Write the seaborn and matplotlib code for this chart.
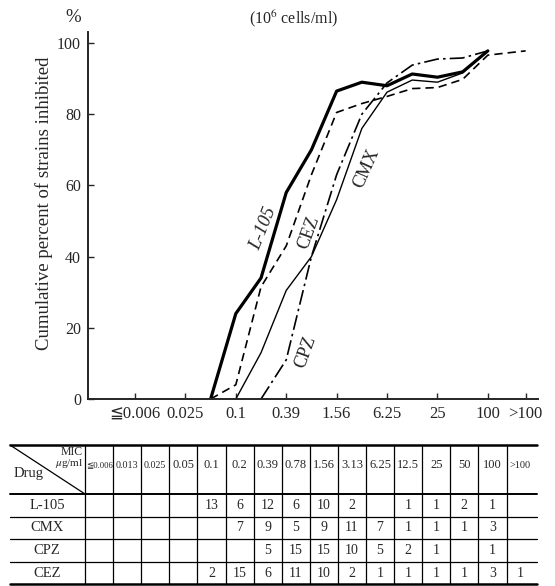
import matplotlib
matplotlib.use("Agg")
import matplotlib.pyplot as plt
import seaborn as sns
import pandas as pd

# MIC levels (ug/ml), in the order used on the x axis and in the table
mic_levels = ["≦0.006", "0.013", "0.025", "0.05", "0.1", "0.2", "0.39", "0.78",
              "1.56", "3.13", "6.25", "12.5", "25", "50", "100", ">100"]
axis_labels = ["≦0.006", "0.025", "0.1", "0.39", "1.56", "6.25", "25", "100", ">100"]

drugs = ["L-105", "CMX", "CPZ", "CEZ"]

# Cumulative percent of strains inhibited at each MIC level
pct_l105 = [None, None, None, 0, 24, 34, 58, 70, 86.5, 89, 88, 91.3, 90.4, 91.9, 97.8, None]
pct_cmx = [None, None, None, None, 0, 13, 30.5, 40, 56, 76, 86.2, 89.6, 89.0, 91.6, 97.8, None]
pct_cpz = [None, None, None, None, None, 0, 11, 40, 63, 80, 88.8, 93.8, 95.5, 95.8, 97.8, None]
pct_cez = [None, None, None, 0, 4, 31.5, 43, 63, 80.5, 83, 85, 87.2, 87.5, 89.8, 96.6, 97.8]

# Number of strains at each MIC level
n_l105 = [None, None, None, None, 13, 6, 12, 6, 10, 2, None, 1, 1, 2, 1, None]
n_cmx = [None, None, None, None, None, 7, 9, 5, 9, 11, 7, 1, 1, 1, 3, None]
n_cpz = [None, None, None, None, None, None, 5, 15, 15, 10, 5, 2, 1, None, 1, None]
n_cez = [None, None, None, None, 2, 15, 6, 11, 10, 2, 1, 1, 1, 1, 3, 1]

pct_by_drug = {"L-105": pct_l105, "CMX": pct_cmx, "CPZ": pct_cpz, "CEZ": pct_cez}
n_by_drug = {"L-105": n_l105, "CMX": n_cmx, "CPZ": n_cpz, "CEZ": n_cez}


def level_pos(label):
    # the open-ended ">100" group sits a little further out
    i = mic_levels.index(label)
    return i + 0.5 if label == ">100" else float(i)


rows = []
for d in drugs:
    for lvl, v in zip(mic_levels, pct_by_drug[d]):
        if v is not None:
            rows.append({"drug": d, "pos": level_pos(lvl), "pct": v})
df = pd.DataFrame(rows)

sns.set_style("ticks")
plt.rcParams["font.family"] = ["Liberation Serif", "DejaVu Sans"]
plt.rcParams["mathtext.fontset"] = "stix"

W, H = 555, 586
fig = plt.figure(figsize=(W / 100, H / 100), dpi=100)
ax = fig.add_axes([88 / W, 1 - 399 / H, 450 / W, 367 / H])

sns.lineplot(
    data=df, x="pos", y="pct", style="drug", size="drug",
    dashes={"L-105": "", "CMX": "", "CEZ": (5, 3), "CPZ": (9, 2.5, 1.5, 2.5)},
    sizes={"L-105": 2.3, "CMX": 1.0, "CEZ": 1.2, "CPZ": 1.2},
    color="black", errorbar=None, legend=False, ax=ax,
)

ax.set_xlim(-1.865, 15.99)
ax.set_ylim(0, 103.1)
ax.set_xticks([level_pos(l) for l in axis_labels])
ax.set_xticklabels(axis_labels, fontsize=12)
ax.set_yticks([0, 20, 40, 60, 80, 100])
ax.set_yticklabels(["0", "20", "40", "60", "80", "100"], fontsize=11.5)
ax.tick_params(direction="in", length=4, width=1, pad=5)
ax.set_xlabel("")
ax.set_ylabel("")
for s in ("top", "right"):
    ax.spines[s].set_visible(False)
for s in ("left", "bottom"):
    ax.spines[s].set_linewidth(1.4)

# Overlay in pixel coordinates for the annotations and the table
ov = fig.add_axes([0, 0, 1, 1])
ov.set_xlim(0, W)
ov.set_ylim(H, 0)
ov.axis("off")
ov.patch.set_alpha(0)

ov.text(44, 203, "Cumulative percent of strains inhibited", rotation=90,
        ha="center", va="center", fontsize=13.5)
ov.text(73, 17, "%", ha="center", va="center", fontsize=13.5)
ov.text(294, 19, "(10$^6$ cells/ml)", ha="center", va="center", fontsize=11.5)

ov.text(263, 229, "L-105", rotation=68, ha="center", va="center", fontsize=13.5, style="italic")
ov.text(309, 232, "CEZ", rotation=70, ha="center", va="center", fontsize=13)
ov.text(366, 168, "CMX", rotation=66, ha="center", va="center", fontsize=13)
ov.text(306, 352, "CPZ", rotation=70, ha="center", va="center", fontsize=13)

# Table of strain counts
x0, x_first, col_w = 10, 85, 28.1
right = 537
y_top, y_head = 445, 494
row_h = 22.6
n_cols = len(mic_levels)

ov.plot([x0, right], [y_top, y_top], color="black", lw=1.8)
ov.plot([x0, right], [y_head, y_head], color="black", lw=1.4)
for r in range(1, len(drugs)):
    y = y_head + r * row_h
    ov.plot([x0, right], [y, y], color="black", lw=0.9)
y_bot = y_head + len(drugs) * row_h
ov.plot([x0, right], [y_bot, y_bot], color="black", lw=1.8)

for k in range(n_cols):
    x = x_first + k * col_w
    ov.plot([x, x], [y_top, y_bot], color="black", lw=0.9)

ov.plot([x0, x_first], [y_top, y_head], color="black", lw=0.9)
ov.text(83, 452, "MIC", ha="right", va="center", fontsize=8.5)
ov.text(84, 464, "$\\mu$g/ml", ha="right", va="center", fontsize=8)
ov.text(14, 474, "Drug", ha="left", va="center", fontsize=10.5)

head_sizes = {"≦0.006": 6.2, "0.013": 7.2, "0.025": 7.2, ">100": 7.5}
for k, lvl in enumerate(mic_levels):
    cx = x_first + (k + 0.5) * col_w
    ov.text(cx, 465, lvl, ha="center", va="center",
            fontsize=head_sizes.get(lvl, 9))

for r, d in enumerate(drugs):
    cy = y_head + (r + 0.5) * row_h
    ov.text(47, cy, d, ha="center", va="center", fontsize=10.5)
    for k, v in enumerate(n_by_drug[d]):
        if v is not None:
            cx = x_first + (k + 0.5) * col_w
            ov.text(cx, cy, str(v), ha="center", va="center", fontsize=10)

fig.savefig("out.png", dpi=100)
